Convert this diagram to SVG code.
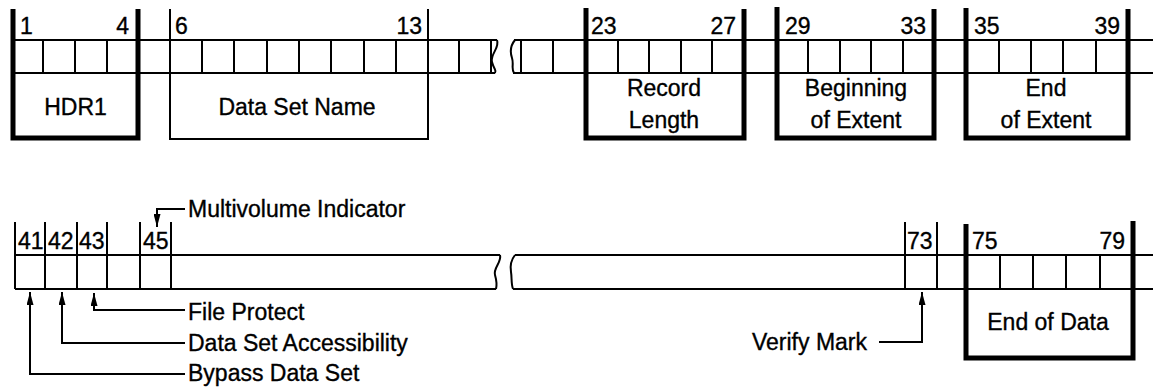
<svg xmlns="http://www.w3.org/2000/svg" width="1153" height="389" viewBox="0 0 1153 389">
<style>
.bg{fill:#fff}
.thin{fill:none;stroke:#000;stroke-width:2}
.thick{fill:none;stroke:#000;stroke-width:5;stroke-linejoin:miter}
.num{font-family:"Liberation Sans",Arial,sans-serif;font-size:23px;fill:#000;stroke:#000;stroke-width:0.35}
.lbl{font-family:"Liberation Sans",Arial,sans-serif;font-size:23px;fill:#000;stroke:#000;stroke-width:0.35}
.mid{text-anchor:middle}
.end{text-anchor:end}
</style>
<defs>
<marker id="ah" viewBox="0 0 13 7" refX="13" refY="3.5" markerWidth="13" markerHeight="7" markerUnits="userSpaceOnUse" orient="auto">
<path d="M0,0 L13,3.5 L0,7 z" fill="#000"/>
</marker>
</defs>
<rect class="bg" x="0" y="0" width="1153" height="389"/>

<!-- Top tape strip -->
<g id="top-strip">
<path class="thin" d="M13,40 H497 M13,73 H495 M514,40 H1153 M513,73 H1153"/>
<path class="thin" d="M497,40 C500,48 490,54 492,62 S497,70 495,73"/>
<path class="thin" d="M515,40 C510,46 510,52 512,58 S511,69 514,73"/>
<path class="thin" d="M43,40V73 M75,40V73 M107,40V73 M202,40V73 M234,40V73 M267,40V73 M299,40V73 M331,40V73 M364,40V73 M396,40V73 M459,40V73 M491,40V73 M521,40V73 M553,40V73 M618,40V73 M649,40V73 M681,40V73 M712,40V73 M808,40V73 M840,40V73 M871,40V73 M903,40V73 M999,40V73 M1031,40V73 M1063,40V73 M1096,40V73"/>
</g>

<g id="hdr1">
<path class="thick" d="M13,9 V138 H138 V9"/>
<text class="num" x="20" y="34">1</text>
<text class="num end" x="129" y="34">4</text>
<text class="lbl mid" x="75.5" y="115">HDR1</text>
</g>

<g id="dsname">
<path class="thin" d="M170,9 V139 H428 V9"/>
<text class="num" x="175" y="34">6</text>
<text class="num end" x="422" y="34">13</text>
<text class="lbl mid" x="297" y="115">Data Set Name</text>
</g>

<g id="reclen">
<path class="thick" d="M586,8 V138 H744 V9"/>
<text class="num" x="591" y="34">23</text>
<text class="num end" x="736" y="34">27</text>
<text class="lbl mid" x="664" y="96">Record</text>
<text class="lbl mid" x="664" y="128">Length</text>
</g>

<g id="begext">
<path class="thick" d="M777,7 V138 H934 V9"/>
<text class="num" x="785" y="34">29</text>
<text class="num end" x="926" y="34">33</text>
<text class="lbl mid" x="856" y="96">Beginning</text>
<text class="lbl mid" x="856" y="128">of Extent</text>
</g>

<g id="endext">
<path class="thick" d="M966,8 V138 H1128 V9"/>
<text class="num" x="974" y="34">35</text>
<text class="num end" x="1120" y="34">39</text>
<text class="lbl mid" x="1046" y="96">End</text>
<text class="lbl mid" x="1046" y="128">of Extent</text>
</g>

<!-- Bottom tape strip -->
<g id="bottom-strip">
<path class="thin" d="M15,255 H500 M15,289 H496 M515,255 H1153 M513,289 H1153"/>
<path class="thin" d="M500,255 C502,262 493,268 495,275 S497,285 496,289"/>
<path class="thin" d="M515,255 C511,260 510,266 511,272 S511,284 513,289"/>
<path class="thin" d="M1000,255V289 M1033,255V289 M1066,255V289 M1100,255V289"/>
</g>

<g id="bytes41-45">
<path class="thin" d="M15,222V289 M45,222V289 M77,222V289 M107,222V289 M140,222V289 M171,222V289"/>
<text class="num" x="18" y="249">41</text>
<text class="num" x="48" y="249">42</text>
<text class="num" x="79" y="249">43</text>
<text class="num" x="143" y="249">45</text>
</g>

<g id="byte73">
<path class="thin" d="M905,222V289 M937,222V289"/>
<text class="num" x="907" y="249">73</text>
</g>

<g id="eod">
<path class="thick" d="M966,224 V358 H1133 V221"/>
<text class="num" x="972" y="249">75</text>
<text class="num end" x="1125" y="249">79</text>
<text class="lbl mid" x="1048" y="330">End of Data</text>
</g>

<g id="callout-labels">
<text class="lbl" x="188" y="217">Multivolume Indicator</text>
<text class="lbl" x="188" y="320">File Protect</text>
<text class="lbl" x="188" y="351">Data Set Accessibility</text>
<text class="lbl" x="188" y="381">Bypass Data Set</text>
<text class="lbl end" x="867" y="350">Verify Mark</text>
</g>

<g id="connectors">
<path class="thin" d="M185,209 H157 V227" marker-end="url(#ah)"/>
<path class="thin" d="M185,310 H94 V293" marker-end="url(#ah)"/>
<path class="thin" d="M185,343 H62 V292" marker-end="url(#ah)"/>
<path class="thin" d="M185,374 H30 V292" marker-end="url(#ah)"/>
<path class="thin" d="M879,342 H922 V292" marker-end="url(#ah)"/>
</g>
</svg>
